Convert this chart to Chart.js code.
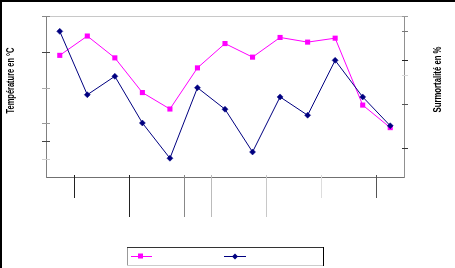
<!DOCTYPE html>
<html>
<head>
<meta charset="utf-8">
<script src="https://cdn.jsdelivr.net/npm/chart.js@4/dist/chart.umd.min.js"></script>
<style>
html,body{margin:0;padding:0;background:#fff;}
canvas{display:block;}
</style>
</head>
<body>
<canvas id="c" width="455" height="268"></canvas>
<script>
// ---- data ----
const categories = ["1","2","3","4","5","6","7","8","9","10","11","12","13"];
const temperature = [34.0, 39.4, 33.3, 23.6, 19.0, 30.5, 37.3, 33.5, 39.0, 37.7, 38.8, 20.1, 13.8];
const surmortalite = [99.5, 56.2, 68.8, 36.9, 12.8, 61.0, 46.3, 17.1, 54.7, 42.2, 79.7, 54.7, 35.0];
const leftTicksShown = [45, 35, 25, 15, 10, 5];
const rightTicksShown = [110, 100, 80, 70, 50, 20];
const innerGroupBreaks = [1, 10, 12];
const outerGroupBreaks = [3, 5, 6, 8];
const leftTitle = "Température en °C";
const rightTitle = "Surmortalité en %";

const leftTickColors = {45:'#888',35:'#444',25:'#aaa',15:'#999',10:'#444',5:'#d0d0d0'};
const rightTickColors = {110:'#999',100:'#777',80:'#222',70:'#d8d8d8',50:'#555',20:'#333'};
const breakColors = {1:'#222',3:'#222',5:'#888',6:'#bbb',8:'#c8c8c8',10:'#ddd',12:'#555'};

const decor = {
  id: 'decor',
  beforeDraw(chart) {
    const ctx = chart.ctx;
    ctx.save();
    ctx.fillStyle = '#fff';
    ctx.fillRect(0, 0, chart.width, chart.height);
    ctx.restore();
  },
  afterDraw(chart) {
    const ctx = chart.ctx;
    const a = chart.chartArea;
    const xs = chart.scales.x, yl = chart.scales.y, yr = chart.scales.y1;
    ctx.save();
    // outer frame (top + left)
    ctx.fillStyle = '#000';
    ctx.fillRect(0, 0, chart.width, 2);
    ctx.fillRect(0, 0, 2, chart.height);
    // top plot border
    ctx.strokeStyle = '#c8c8c8';
    ctx.lineWidth = 1;
    ctx.beginPath();
    ctx.moveTo(a.left, a.top + 0.5);
    ctx.lineTo(a.right + 1, a.top + 0.5);
    ctx.stroke();
    // left ticks
    leftTicksShown.forEach(v => {
      const y = Math.round(yl.getPixelForValue(v)) + 0.5;
      ctx.strokeStyle = leftTickColors[v] || '#666';
      ctx.beginPath();
      ctx.moveTo(a.left - 4, y);
      ctx.lineTo(a.left + 4, y);
      ctx.stroke();
    });
    // right ticks
    rightTicksShown.forEach(v => {
      const y = Math.round(yr.getPixelForValue(v)) + 0.5;
      ctx.strokeStyle = rightTickColors[v] || '#666';
      ctx.beginPath();
      ctx.moveTo(a.right - 2, y);
      ctx.lineTo(a.right + 4, y);
      ctx.stroke();
    });
    // category group separators below x axis
    const drawBreak = (b, len) => {
      const x = Math.round((xs.getPixelForValue(b - 1) + xs.getPixelForValue(b)) / 2) + 0.5;
      ctx.strokeStyle = breakColors[b] || '#666';
      ctx.beginPath();
      ctx.moveTo(x, a.bottom - 2);
      ctx.lineTo(x, a.bottom + len);
      ctx.stroke();
    };
    innerGroupBreaks.forEach(b => drawBreak(b, 21));
    outerGroupBreaks.forEach(b => drawBreak(b, 40));
    // axis titles
    const drawTitle = (txt, cx, cy, target) => {
      ctx.save();
      ctx.font = 'bold 10px "Liberation Sans", Arial, sans-serif';
      ctx.fillStyle = '#000';
      ctx.textAlign = 'center';
      ctx.textBaseline = 'middle';
      const w = ctx.measureText(txt).width;
      ctx.translate(cx, cy);
      ctx.rotate(-Math.PI / 2);
      ctx.scale(target / w, 1);
      ctx.fillText(txt, 0, 0);
      ctx.restore();
    };
    drawTitle(leftTitle, 11.5, 80.5, 66);
    drawTitle(rightTitle, 438, 79.5, 66);
    // legend box
    const lx = 127, ly = 247, lw = 197, lh = 18;
    ctx.strokeStyle = '#ccc';
    ctx.beginPath(); ctx.moveTo(lx, ly + lh + 0.5); ctx.lineTo(lx + lw, ly + lh + 0.5); ctx.stroke();
    ctx.strokeStyle = '#999';
    ctx.beginPath(); ctx.moveTo(lx + 0.5, ly); ctx.lineTo(lx + 0.5, ly + lh); ctx.stroke();
    ctx.strokeStyle = '#333';
    ctx.beginPath(); ctx.moveTo(lx, ly + 0.5); ctx.lineTo(lx + lw, ly + 0.5); ctx.stroke();
    ctx.strokeStyle = '#000';
    ctx.beginPath(); ctx.moveTo(lx + lw - 0.5, ly); ctx.lineTo(lx + lw - 0.5, ly + lh + 1); ctx.stroke();
    const ds = chart.data.datasets;
    const my = 256.5;
    // pink sample
    ctx.strokeStyle = ds[0].borderColor; ctx.lineWidth = 1;
    ctx.beginPath(); ctx.moveTo(131, my); ctx.lineTo(152, my); ctx.stroke();
    ctx.fillStyle = ds[0].pointBackgroundColor;
    ctx.fillRect(138, my - 3, 5, 5);
    // navy sample
    ctx.strokeStyle = ds[1].borderColor;
    ctx.beginPath(); ctx.moveTo(224, my); ctx.lineTo(246, my); ctx.stroke();
    ctx.fillStyle = ds[1].pointBackgroundColor;
    ctx.beginPath();
    ctx.moveTo(235, my - 3); ctx.lineTo(238, my); ctx.lineTo(235, my + 3); ctx.lineTo(232, my);
    ctx.closePath(); ctx.fill();
    ctx.restore();
  }
};

new Chart(document.getElementById('c'), {
  type: 'line',
  data: {
    labels: categories,
    datasets: [
      {
        label: leftTitle,
        data: temperature,
        yAxisID: 'y',
        borderColor: '#ff00ff',
        backgroundColor: '#ff00ff',
        pointBackgroundColor: '#ff00ff',
        pointBorderColor: '#ff00ff',
        pointStyle: 'rect',
        pointRadius: 3.6,
        pointBorderWidth: 0,
        borderWidth: 1,
        tension: 0,
        order: 1
      },
      {
        label: rightTitle,
        data: surmortalite,
        yAxisID: 'y1',
        borderColor: '#000080',
        backgroundColor: '#000080',
        pointBackgroundColor: '#000080',
        pointBorderColor: '#000080',
        pointStyle: 'rectRot',
        pointRadius: 3,
        pointBorderWidth: 0.5,
        borderWidth: 1,
        tension: 0,
        order: 0
      }
    ]
  },
  options: {
    responsive: false,
    devicePixelRatio: 1,
    animation: false,
    layout: { padding: { top: 16, left: 0, right: 0, bottom: 0 } },
    plugins: { legend: { display: false }, tooltip: { enabled: false } },
    scales: {
      x: {
        type: 'category',
        offset: true,
        grid: { display: false },
        border: { display: true, color: '#707070', width: 1 },
        ticks: { display: false },
        afterFit(s) { s.height = 91; }
      },
      y: {
        position: 'left',
        min: 0, max: 45,
        ticks: { display: false, stepSize: 5 },
        grid: { display: false },
        border: { display: true, color: '#808080', width: 1 },
        afterFit(s) { s.width = 46; }
      },
      y1: {
        position: 'right',
        min: 0, max: 110,
        ticks: { display: false, stepSize: 10 },
        grid: { display: false },
        border: { display: true, color: '#909090', width: 1 },
        afterFit(s) { s.width = 51; }
      }
    }
  },
  plugins: [decor]
});
</script>
</body>
</html>
